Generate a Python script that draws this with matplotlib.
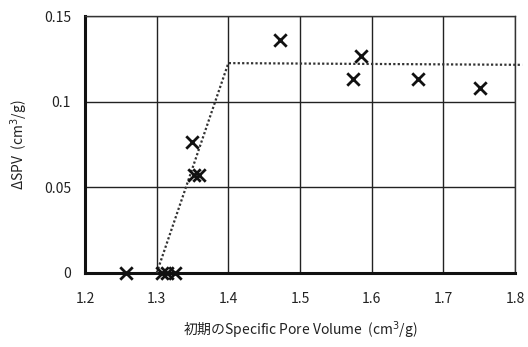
import matplotlib
matplotlib.use("Agg")
import matplotlib.pyplot as plt

plt.rcParams['font.family'] = ['Noto Sans CJK JP', 'DejaVu Sans']

# Measured samples: initial specific pore volume vs. change in SPV
initial_spv = [1.257, 1.308, 1.315, 1.326, 1.349, 1.352, 1.359, 1.472, 1.585, 1.574, 1.665, 1.751]
delta_spv = [0.0, 0.0, 0.0, 0.0, 0.0765, 0.057, 0.057, 0.136, 0.1265, 0.113, 0.113, 0.108]

# Trend line (dotted)
trend_x = [1.30, 1.40, 1.81]
trend_y = [0.0, 0.1225, 0.1215]

x_ticks = [1.2, 1.3, 1.4, 1.5, 1.6, 1.7, 1.8]
x_tick_labels = ["1.2", "1.3", "1.4", "1.5", "1.6", "1.7", "1.8"]
y_ticks = [0.0, 0.05, 0.1, 0.15]
y_tick_labels = ["0", "0.05", "0.1", "0.15"]

fig = plt.figure(figsize=(5.28, 3.47), dpi=100)
ax = fig.add_axes([85 / 528, 1 - 273 / 347, 430 / 528, 257 / 347])

ax.plot(trend_x, trend_y, linestyle=(0, (1, 1)), color='#333333', linewidth=1.6,
        clip_on=False, zorder=3)
ax.scatter(initial_spv, delta_spv, marker='x', s=80, color='#111111',
           linewidths=2.0, clip_on=False, zorder=4)

ax.set_xlim(1.2, 1.8)
ax.set_ylim(0, 0.15)
ax.set_xticks(x_ticks)
ax.set_xticklabels(x_tick_labels)
ax.set_yticks(y_ticks)
ax.set_yticklabels(y_tick_labels)
ax.grid(True, color='#222222', linewidth=1.0)
ax.set_axisbelow(True)
ax.tick_params(length=0, labelsize=10, colors='#222222')
ax.tick_params(axis='x', pad=14)
ax.tick_params(axis='y', pad=10)

for side in ['top', 'right']:
    ax.spines[side].set_linewidth(1.0)
    ax.spines[side].set_color('#333333')
for side in ['left', 'bottom']:
    ax.spines[side].set_linewidth(2.2)
    ax.spines[side].set_color('#111111')

ax.set_xlabel("初期のSpecific Pore Volume  (cm$^3$/g)", fontsize=10, labelpad=9,
              color='#222222')
ax.set_ylabel("ΔSPV  (cm$^3$/g)", fontsize=10, labelpad=10, color='#222222')

fig.savefig("out.png", dpi=100)
